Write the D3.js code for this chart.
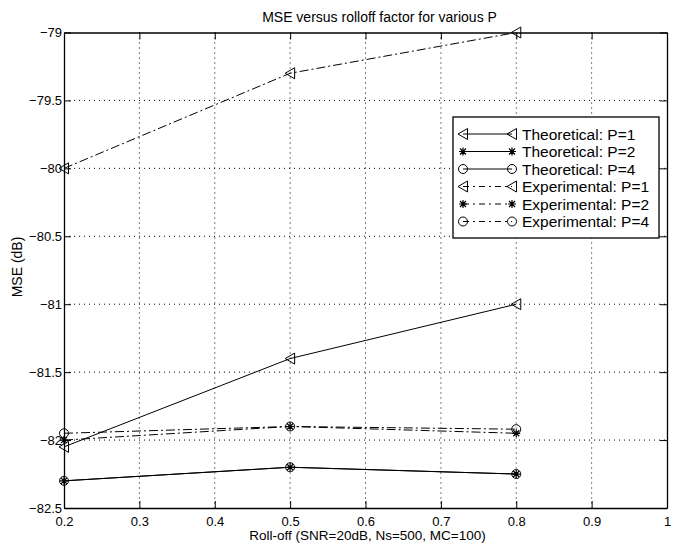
<!DOCTYPE html>
<html>
<head>
  <meta charset="utf-8">
  <style>
    body { margin: 0; background: #fff; }
    text { font-family: "Liberation Sans", Arial, sans-serif; fill: #000; }
    .grid line { stroke: #000; stroke-width: 1px; stroke-dasharray: 1,4; }
    .tick-label { font-size: 13px; }
    .legend-label { font-size: 15.5px; }
  </style>
  <script src="https://d3js.org/d3.v7.min.js"></script>
</head>
<body>
<div class="chart"></div>
<script>
// chart values
const rolloff = [0.2, 0.5, 0.8];
const theoP1 = [-82.05, -81.4, -81.0];
const theoP2 = [-82.3, -82.2, -82.25];
const theoP4 = [-82.3, -82.2, -82.25];
const expP1 = [-80.0, -79.3, -79.0];
const expP2 = [-82.0, -81.9, -81.95];
const expP4 = [-81.95, -81.9, -81.92];
const xTicks = [0.2, 0.3, 0.4, 0.5, 0.6, 0.7, 0.8, 0.9, 1];
const yTicks = [-82.5, -82, -81.5, -81, -80.5, -80, -79.5, -79];

const series = [
  {name: 'Theoretical: P=1', values: theoP1, marker: 'tri', dash: null},
  {name: 'Theoretical: P=2', values: theoP2, marker: 'star', dash: null},
  {name: 'Theoretical: P=4', values: theoP4, marker: 'circle', dash: null},
  {name: 'Experimental: P=1', values: expP1, marker: 'tri', dash: '9,3,2,3'},
  {name: 'Experimental: P=2', values: expP2, marker: 'star', dash: '9,3,2,3'},
  {name: 'Experimental: P=4', values: expP4, marker: 'circle', dash: '9,3,2,3'}
];

const width = 673, height = 545;
const margin = {left: 64, right: 6, top: 32.5, bottom: 37};
const innerW = width - margin.left - margin.right;
const innerH = height - margin.top - margin.bottom;

const svg = d3.select('.chart').append('svg')
  .attr('width', width)
  .attr('height', height);

const x = d3.scaleLinear().domain([0.2, 1]).range([0, innerW]);
const y = d3.scaleLinear().domain([-82.5, -79]).range([innerH, 0]);

const g = svg.append('g')
  .attr('transform', `translate(${margin.left},${margin.top})`);

// dotted grid
const grid = g.append('g').attr('class', 'grid');
grid.selectAll('.gx').data(xTicks.slice(1, -1)).enter()
  .append('line')
  .attr('x1', d => x(d)).attr('x2', d => x(d))
  .attr('y1', 0).attr('y2', innerH);
grid.selectAll('.gy').data(yTicks.slice(1, -1)).enter()
  .append('line')
  .attr('x1', 0).attr('x2', innerW)
  .attr('y1', d => y(d)).attr('y2', d => y(d));

// axes, matlab style with inward ticks on all sides
const tickFmt = d => d3.format('')(d).replace('-', '\u2212');
g.append('g')
  .attr('transform', `translate(0,${innerH})`)
  .call(d3.axisBottom(x).tickValues(xTicks).tickSizeInner(-7).tickSizeOuter(0).tickPadding(9).tickFormat(d3.format('')))
  .call(a => a.selectAll('text').attr('class', 'tick-label'));
g.append('g')
  .call(d3.axisTop(x).tickValues(xTicks).tickSizeInner(-7).tickSizeOuter(0).tickFormat(''));
g.append('g')
  .call(d3.axisLeft(y).tickValues(yTicks).tickSizeInner(-7).tickSizeOuter(0).tickPadding(2).tickFormat(tickFmt))
  .call(a => a.selectAll('text').attr('class', 'tick-label'));
g.append('g')
  .attr('transform', `translate(${innerW},0)`)
  .call(d3.axisRight(y).tickValues(yTicks).tickSizeInner(-7).tickSizeOuter(0).tickFormat(''));
g.selectAll('.domain').attr('stroke', '#000').attr('stroke-width', 1.3);
g.selectAll('.tick line').attr('stroke', '#000');
g.selectAll('.tick text').attr('fill', '#000');

// markers
function drawMarker(sel, type) {
  if (type === 'tri') {
    sel.append('path').attr('d', 'M-5,0L4.5,-5.5L4.5,5.5Z')
      .attr('fill', 'none').attr('stroke', '#000').attr('stroke-width', 1);
  } else if (type === 'circle') {
    sel.append('circle').attr('r', 4.5)
      .attr('fill', 'none').attr('stroke', '#000').attr('stroke-width', 1);
  } else {
    sel.append('path').attr('d', 'M-4,0H4M0,-4V4M-3,-3L3,3M-3,3L3,-3')
      .attr('fill', 'none').attr('stroke', '#000').attr('stroke-width', 1.2);
  }
}

const line = d3.line().x((d, i) => x(rolloff[i])).y(d => y(d));

series.forEach(s => {
  g.append('path')
    .datum(s.values)
    .attr('d', line)
    .attr('fill', 'none')
    .attr('stroke', '#000')
    .attr('stroke-width', 1)
    .attr('stroke-dasharray', s.dash);
  g.selectAll(null).data(s.values).enter()
    .append('g')
    .attr('transform', (d, i) => `translate(${x(rolloff[i])},${y(d)})`)
    .each(function() { drawMarker(d3.select(this), s.marker); });
});

// legend
const legend = svg.append('g').attr('transform', 'translate(453,117)');
legend.append('rect')
  .attr('width', 206).attr('height', 121)
  .attr('fill', '#fff').attr('stroke', '#000').attr('stroke-width', 1.3);
const rows = legend.selectAll('.row').data(series).enter()
  .append('g')
  .attr('transform', (d, i) => `translate(0,${17 + i * 17.5})`);
rows.append('line')
  .attr('x1', 10).attr('x2', 59).attr('y1', 0).attr('y2', 0)
  .attr('stroke', '#000').attr('stroke-width', 1)
  .attr('stroke-dasharray', d => d.dash ? '6,4,2,4' : null);
rows.each(function(d) {
  drawMarker(d3.select(this).append('g').attr('transform', 'translate(10,0)'), d.marker);
  drawMarker(d3.select(this).append('g').attr('transform', 'translate(59,0)'), d.marker);
});
rows.append('text')
  .attr('class', 'legend-label')
  .attr('x', 69).attr('y', 5.5)
  .text(d => d.name);

// titles
svg.append('text')
  .attr('x', margin.left + innerW / 2 + 14).attr('y', 22)
  .attr('text-anchor', 'middle').style('font-size', '14px')
  .text('MSE versus rolloff factor for various P');
svg.append('text')
  .attr('x', margin.left + innerW / 2 + 2).attr('y', 540)
  .attr('text-anchor', 'middle').style('font-size', '13.5px')
  .text('Roll-off (SNR=20dB, Ns=500, MC=100)');
svg.append('text')
  .attr('transform', 'translate(22,267) rotate(-90)')
  .attr('text-anchor', 'middle').style('font-size', '14px')
  .text('MSE (dB)');
</script>
</body>
</html>
